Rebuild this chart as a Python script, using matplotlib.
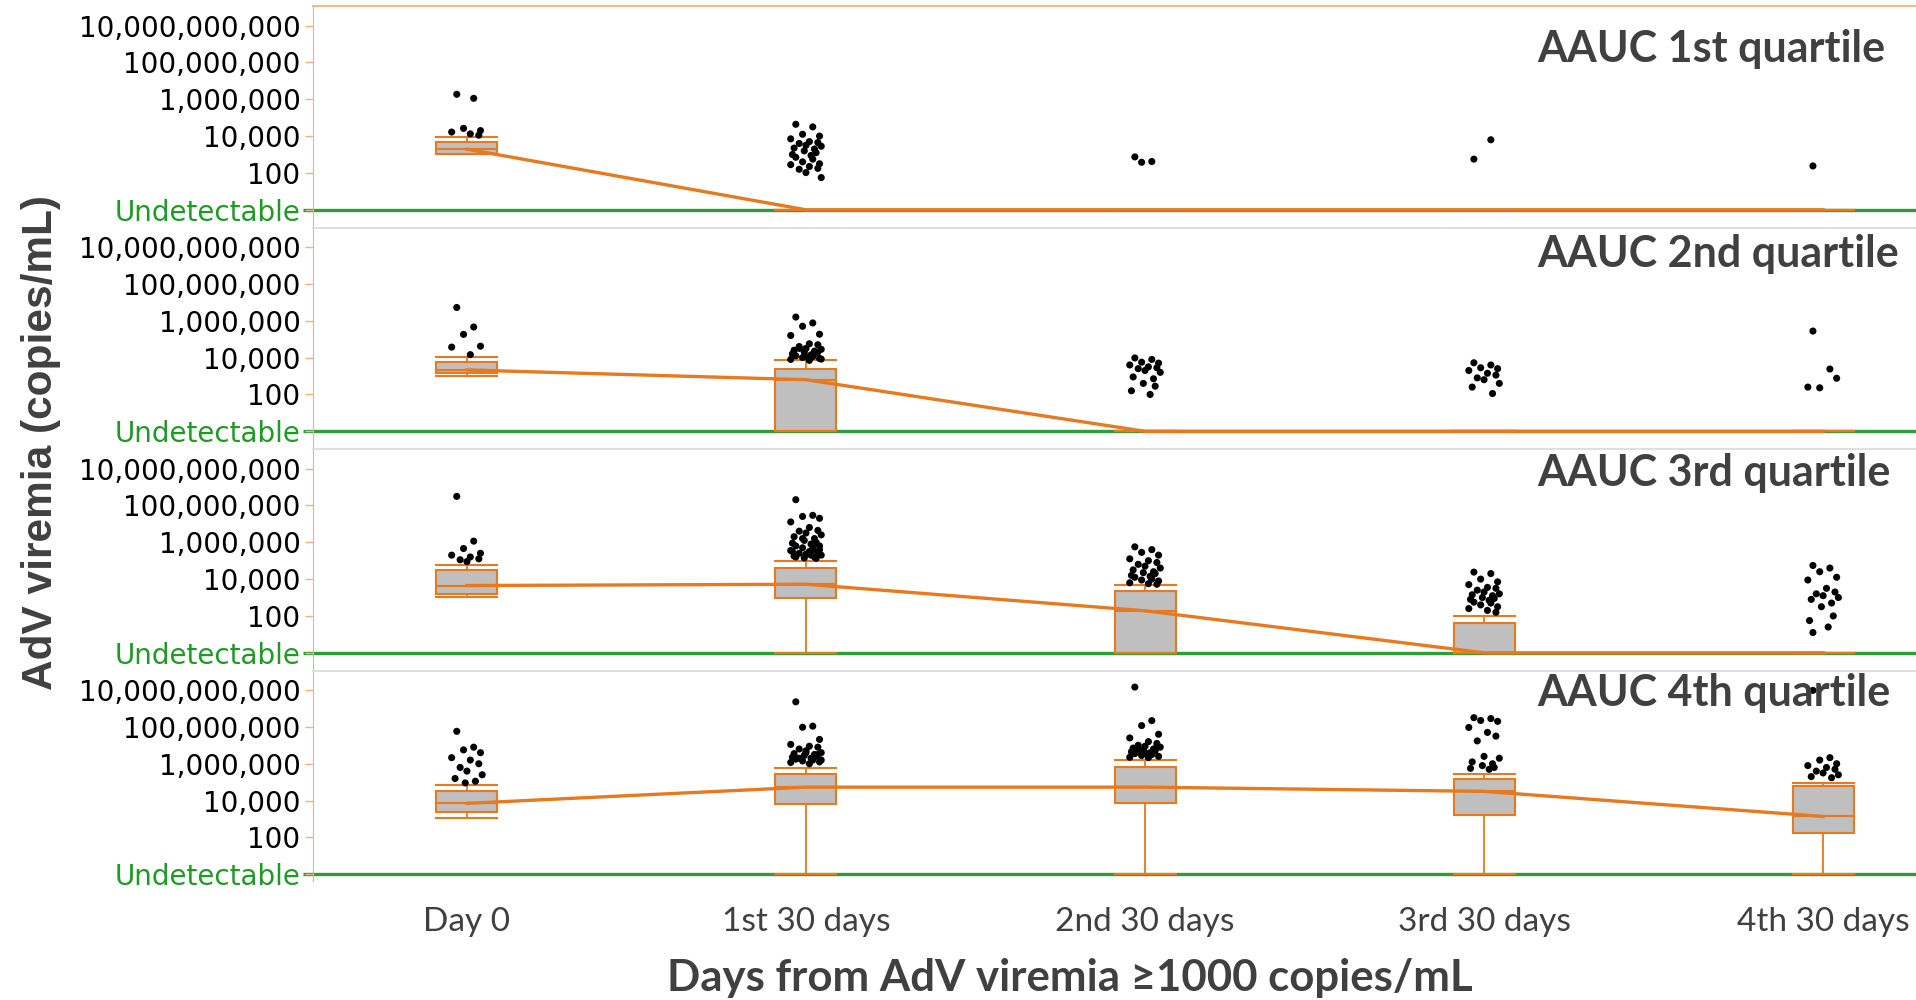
import matplotlib
matplotlib.use("Agg")
import matplotlib.pyplot as plt
import numpy as np

# time windows on the x axis
periods = ["Day 0", "1st 30 days", "2nd 30 days", "3rd 30 days", "4th 30 days"]
panel_titles = ["AAUC 1st quartile", "AAUC 2nd quartile",
                "AAUC 3rd quartile", "AAUC 4th quartile"]

# y ticks in copies/mL; 1 copy stands for "Undetectable"
tick_values = [1, 1e2, 1e4, 1e6, 1e8, 1e10]
tick_labels = ["Undetectable", "100", "10,000", "1,000,000",
               "100,000,000", "10,000,000,000"]

# box summaries per period, log10 copies/mL: (whisker low, q1, median, q3, whisker high)
q1_boxes = [(3.02, 3.05, 3.29, 3.69, 3.96), (0, 0, 0, 0, 0), (0, 0, 0, 0, 0),
            (0, 0, 0, 0, 0), (0, 0, 0, 0, 0)]
q2_boxes = [(3.01, 3.19, 3.33, 3.74, 4.03), (0, 0, 2.80, 3.40, 3.86), (0, 0, 0, 0, 0),
            (0, 0, 0, 0, 0), (0, 0, 0, 0, 0)]
q3_boxes = [(3.05, 3.19, 3.65, 4.47, 4.78), (0, 3.00, 3.72, 4.60, 4.98),
            (0, 0, 2.28, 3.36, 3.70), (0, 0, 0, 1.64, 2.00), (0, 0, 0, 0, 0)]
q4_boxes = [(3.05, 3.38, 3.85, 4.54, 4.85), (0, 3.81, 4.73, 5.45, 5.75),
            (0, 3.87, 4.73, 5.82, 6.19), (0, 3.23, 4.50, 5.15, 5.46),
            (0, 2.26, 3.14, 4.78, 4.93)]

# individual samples above the upper whisker, log10 copies/mL
q1_points = [
    [6.27, 6.05, 4.42, 4.30, 4.22, 4.12, 4.05],
    [4.64, 4.50, 4.10, 4.00, 3.85, 3.70, 3.65, 3.60, 3.50, 3.45, 3.35, 3.30, 3.20,
     3.10, 3.00, 2.95, 2.85, 2.75, 2.60, 2.50, 2.45, 2.35, 2.25, 2.20, 2.02, 1.75],
    [2.87, 2.62, 2.58],
    [2.75, 3.80],
    [2.38],
]
q2_points = [
    [6.72, 5.66, 5.26, 4.62, 4.57, 4.16],
    [6.20, 5.88, 5.70, 5.27, 5.20, 4.75, 4.70, 4.60, 4.50, 4.45, 4.40, 4.35, 4.30,
     4.25, 4.20, 4.15, 4.10, 4.05, 4.00, 3.95, 3.90, 3.85, 4.30, 4.50, 4.05, 3.92],
    [3.98, 3.90, 3.75, 3.70, 3.60, 3.50, 3.45, 3.40, 3.30, 3.20, 2.95, 2.85, 2.60,
     2.45, 2.20, 2.00],
    [3.72, 3.60, 3.45, 3.40, 3.30, 3.15, 3.05, 2.90, 2.80, 2.60, 2.40, 2.05],
    [5.44, 3.38, 2.36, 2.88, 2.40],
]
q3_points = [
    [8.49, 6.06, 5.66, 5.40, 5.30, 5.20, 5.10, 5.05, 4.95],
    [8.31, 7.46, 7.40, 7.30, 7.10, 6.80, 6.64, 6.60, 6.50, 6.40, 6.30, 6.20, 6.10,
     6.00, 5.95, 5.90, 5.80, 5.75, 5.70, 5.60, 5.55, 5.50, 5.45, 5.40, 5.35, 5.30,
     5.25, 5.20, 5.15, 5.13, 5.50, 5.30, 5.20, 5.60, 6.20, 5.80],
    [5.75, 5.60, 5.45, 5.30, 5.10, 5.00, 4.90, 4.80, 4.70, 4.60, 4.50, 4.40, 4.35,
     4.30, 4.20, 4.15, 4.10, 4.00, 3.95, 3.90, 3.80, 3.75, 3.72],
    [4.38, 4.30, 4.00, 3.85, 3.70, 3.55, 3.50, 3.40, 3.30, 3.20, 3.15, 3.10, 3.00,
     2.95, 2.90, 2.85, 2.75, 2.70, 2.60, 2.50, 2.40, 2.30, 2.20],
    [4.74, 4.60, 4.40, 4.10, 3.95, 3.50, 3.30, 3.20, 3.10, 3.00, 2.90, 2.70, 2.50,
     2.00, 1.75, 1.40, 1.10],
]
q4_points = [
    [7.76, 6.90, 6.75, 6.60, 6.33, 6.20, 6.00, 5.80, 5.60, 5.40, 5.20, 5.05, 4.96],
    [9.36, 8.04, 7.98, 7.32, 7.05, 6.95, 6.90, 6.80, 6.70, 6.60, 6.55, 6.50, 6.45,
     6.40, 6.35, 6.30, 6.25, 6.20, 6.15, 6.10, 6.07, 6.00, 6.50, 6.30, 6.60, 6.20],
    [10.16, 8.34, 8.07, 7.60, 7.40, 7.20, 7.10, 7.00, 6.95, 6.90, 6.85, 6.80, 6.75,
     6.70, 6.65, 6.60, 6.55, 6.50, 6.45, 6.40, 6.35, 6.33, 6.90, 6.70, 6.60],
    [8.50, 8.45, 8.35, 8.30, 7.97, 7.70, 7.50, 7.24, 6.40, 6.30, 6.10, 6.00, 5.90,
     5.80, 5.75, 5.70],
    [9.98, 6.33, 6.20, 6.00, 5.90, 5.80, 5.70, 5.60, 5.50, 5.40, 5.30, 5.24],
]

all_boxes = [q1_boxes, q2_boxes, q3_boxes, q4_boxes]
all_points = [q1_points, q2_points, q3_points, q4_points]

ORANGE = "#e8791e"
SPINE_ORANGE = "#f6b080"
GREEN = "#2e9e35"
GREEN_TXT = "#1f9a25"
GREY_TXT = "#404040"
BOX_FILL = "#bfbfbf"

# small fixed horizontal spread for the dots
jitter = np.array([-0.030, 0.020, -0.010, 0.040, -0.045, 0.010, 0.035, -0.020,
                   0.000, 0.045, -0.035, 0.025, -0.005, 0.030, -0.040, 0.015])

fig = plt.figure(figsize=(19.16, 10.0), dpi=100)
W, H = 1916.0, 1000.0
left_px, panel_h = 313.0, 221.5
panel_tops = [6.0, 227.5, 449.0, 670.5]
title_y = [49, 254, 473, 693]
ylo, yhi = 10 ** -0.96, 10 ** 11.06
xpos = np.arange(len(periods))

for i, top in enumerate(panel_tops):
    ax = fig.add_axes([left_px / W, 1 - (top + panel_h) / H, 1 - left_px / W, panel_h / H])
    ax.set_yscale("log")
    ax.set_ylim(ylo, yhi)
    ax.set_xlim(-0.454, 4.274)
    ax.minorticks_off()

    # undetectable baseline, running out through the tick
    ax.plot([-0.006, 1], [1, 1], transform=ax.get_yaxis_transform(), color=GREEN,
            lw=2.4, clip_on=False, zorder=1, solid_capstyle="butt")

    stats = []
    for lo, q1, med, q3, hi in all_boxes[i]:
        stats.append(dict(whislo=10 ** lo, q1=10 ** q1, med=10 ** med,
                          q3=10 ** q3, whishi=10 ** hi, fliers=[]))
    ax.bxp(stats, positions=xpos, widths=0.18, patch_artist=True,
           boxprops=dict(facecolor=BOX_FILL, edgecolor=ORANGE, lw=1.5),
           medianprops=dict(color=ORANGE, lw=1.5),
           whiskerprops=dict(color=ORANGE, lw=1.3),
           capprops=dict(color=ORANGE, lw=1.5), capwidths=0.18,
           manage_ticks=False, zorder=2)

    medians = [10 ** b[2] for b in all_boxes[i]]
    ax.plot(xpos, medians, color=ORANGE, lw=2.4, zorder=3)

    for j, pts in enumerate(all_points[i]):
        vals = 10 ** np.array(pts)
        xs = xpos[j] + jitter[np.arange(len(pts)) % len(jitter)]
        ax.scatter(xs, vals, s=26, color="black", edgecolors="none", zorder=4)

    ax.set_yticks(tick_values)
    ax.set_yticklabels(tick_labels, fontsize=20, family="DejaVu Sans")
    ax.get_yticklabels()[0].set_color(GREEN_TXT)
    ax.tick_params(axis="y", length=6, width=1, color=SPINE_ORANGE, pad=3)

    for side in ("right", "bottom"):
        ax.spines[side].set_visible(False)
    ax.spines["left"].set_color(SPINE_ORANGE)
    ax.spines["top"].set_color(SPINE_ORANGE if i == 0 else "#dcdcdc")
    ax.spines["top"].set_linewidth(1.3)

    fig.text(1537 / W, 1 - title_y[i] / H, panel_titles[i],
             fontsize=31, fontweight="bold", family="Lato", color=GREY_TXT,
             va="center", ha="left", zorder=5)

    if i < 3:
        ax.set_xticks([])
    else:
        ax.set_xticks(xpos)
        ax.set_xticklabels(periods, fontsize=24, family="Lato", color=GREY_TXT)
        ax.tick_params(axis="x", length=0, pad=11)
        ax.spines["left"].set_bounds(10 ** -0.35, yhi)

fig.text(1070 / W, 1 - 978 / H, "Days from AdV viremia \u22651000 copies/mL",
         fontsize=31.5, fontweight="bold", family=["Lato", "DejaVu Sans"],
         color=GREY_TXT, ha="center", va="center")
fig.text(41 / W, 1 - 442 / H, "AdV viremia (copies/mL)", rotation=90,
         fontsize=30.5, fontweight="bold", family="Liberation Sans",
         color=GREY_TXT, ha="center", va="center")

fig.savefig("out.png", dpi=100)
plt.close(fig)
